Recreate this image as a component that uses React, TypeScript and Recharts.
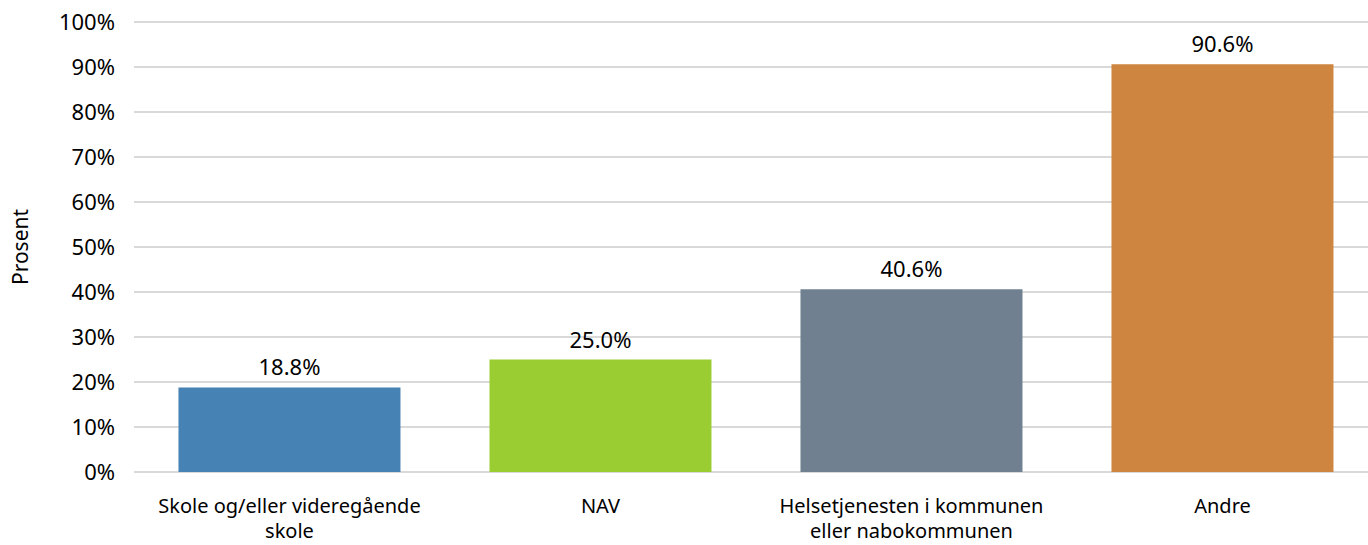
import { Bar, BarChart, CartesianGrid, Cell, LabelList, Label, XAxis, YAxis } from 'recharts';

const categories = ['Skole og/eller videregående skole', 'NAV', 'Helsetjenesten i kommunen eller nabokommunen', 'Andre'];
const tickLines = [['Skole og/eller videregående', 'skole'], ['NAV'], ['Helsetjenesten i kommunen', 'eller nabokommunen'], ['Andre']];
const values = [18.8, 25.0, 40.6, 90.6];
const colors = ['#4682b4', '#9acd32', '#708090', '#cd853f'];
const yTicks = [0, 10, 20, 30, 40, 50, 60, 70, 80, 90, 100];

const FONT = '"Noto Sans", sans-serif';

const data = categories.map((c, i) => ({ name: c, value: values[i] }));

// wrapped category label, one tspan per line
function CategoryTick({ x, y, payload, index }: any) {
  const lines = tickLines[index] || [payload.value];
  return (
    <text x={x} y={y} textAnchor="middle" fill="#000" fontSize={20} fontFamily={FONT}>
      {lines.map((l, i) => (
        <tspan key={i} x={x} dy={i === 0 ? 33 : 25}>
          {l}
        </tspan>
      ))}
    </text>
  );
}

export default function App() {
  return (
    <div style={{ position: 'absolute', left: 0, top: 0, width: 1368, height: 545, overflow: 'hidden', background: '#fff' }}>
      <BarChart
        width={1378}
        height={545}
        data={data}
        margin={{ top: 22, right: 0, bottom: 0, left: 0 }}
        barCategoryGap="14.3%"
      >
        <CartesianGrid vertical={false} stroke="#d9d9d9" strokeWidth={2} />
        <XAxis
          dataKey="name"
          axisLine={false}
          tickLine={false}
          height={73}
          interval={0}
          tick={<CategoryTick />}
        />
        <YAxis
          domain={[0, 100]}
          ticks={yTicks}
          width={134}
          axisLine={false}
          tickLine={false}
          tickMargin={13}
          tickFormatter={(v) => `${v}%`}
          tick={{ fill: '#000', fontSize: 22, fontFamily: FONT }}
        >
          <Label
            content={({ viewBox }: any) => {
              const cx = 20;
              const cy = viewBox.y + viewBox.height / 2;
              return (
                <text
                  x={cx}
                  y={cy}
                  transform={`rotate(-90 ${cx} ${cy})`}
                  textAnchor="middle"
                  dominantBaseline="central"
                  fill="#000"
                  fontSize={21}
                  fontFamily={FONT}
                >
                  Prosent
                </text>
              );
            }}
          />
        </YAxis>
        <Bar dataKey="value" isAnimationActive={false}>
          {data.map((d, i) => (
            <Cell key={d.name} fill={colors[i]} />
          ))}
          <LabelList
            dataKey="value"
            position="top"
            offset={12}
            formatter={(v: any) => `${Number(v).toFixed(1)}%`}
            fill="#000"
            fontSize={22}
            fontFamily={FONT}
          />
        </Bar>
      </BarChart>
    </div>
  );
}
